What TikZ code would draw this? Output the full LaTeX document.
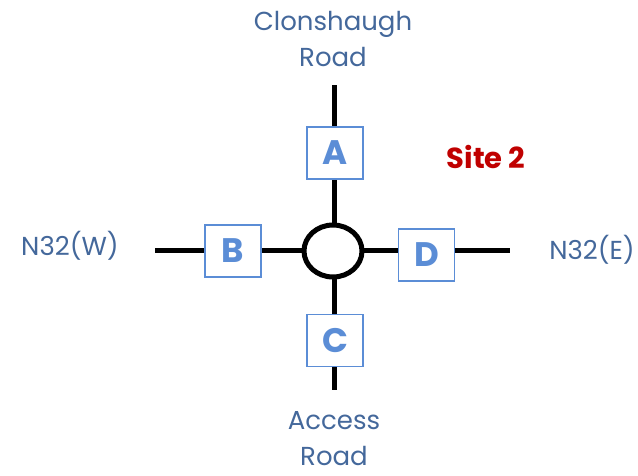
\documentclass[tikz,border=0pt]{standalone}
\usepackage{fontspec}
\setmainfont{Poppins}
\usetikzlibrary{shapes,positioning}
\definecolor{armblue}{HTML}{5B8DD6}
\definecolor{labelblue}{HTML}{44689B}
\definecolor{sitered}{HTML}{C00000}

\begin{document}
\begin{tikzpicture}[x=1pt,y=-1pt]
	\tikzstyle{Road}	= [line width=5pt, black]
	\tikzstyle{Rbt}		= [ellipse, draw, line width=5pt, fill=white, minimum width=58pt, minimum height=52pt, inner sep=0pt]
	\tikzstyle{Arm}		= [rectangle, draw=armblue, line width=1.8pt, fill=white, minimum width=56pt, minimum height=52pt, inner sep=0pt, text=armblue, font=\fontsize{34}{34}\selectfont\bfseries]
	\tikzstyle{Label}	= [text=labelblue, align=center, font=\fontsize{26}{36}\selectfont]
	\tikzstyle{Site}	= [text=sitered, font=\fontsize{29}{29}\selectfont\bfseries]

	\useasboundingbox (0,0) rectangle (638,475);

	% road ends
	\coordinate (rdN) at (334,85);
	\coordinate (rdS) at (334,390);
	\coordinate (rdW) at (155,250);
	\coordinate (rdE) at (510,250);

	\draw [-] (rdN) to (rdS) [Road];
	\draw [-] (rdW) to (rdE) [Road];

	\node (rbt) at (333,251) [Rbt] {};
	\node (A) [Arm, above=43pt of rbt, xshift=2pt] {A};
	\node (B) [Arm, left=40pt of rbt] {B};
	\node (C) [Arm, below=34pt of rbt, xshift=2pt] {C};
	\node (D) [Arm, right=33pt of rbt, yshift=-4pt] {D};

	\node (clon) at (333,39) [Label] {Clonshaugh\\Road};
	\node (access) at (334,439) [Label] {Access\\Road};
	\node (n32w) at (70,246) [Label] {N32(W)};
	\node (n32e) at (592,250) [Label] {N32(E)};
	\node (site) at (486,157) [Site] {Site 2};
\end{tikzpicture}
\end{document}
